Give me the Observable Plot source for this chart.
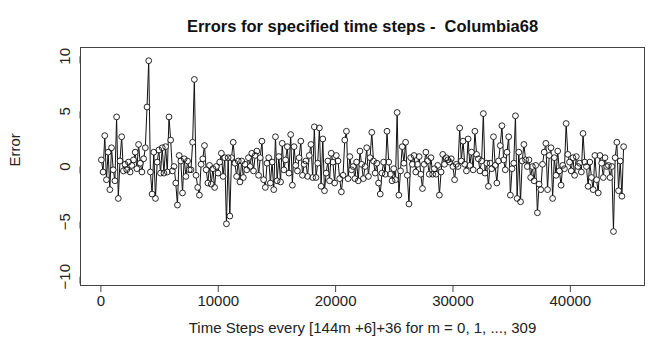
<!DOCTYPE html>
<html>
<head>
<meta charset="utf-8">
<script src="https://cdn.jsdelivr.net/npm/d3@7"></script>
<script src="https://cdn.jsdelivr.net/npm/@observablehq/plot@0.6"></script>
<style>
  html, body { margin: 0; padding: 0; background: #fff; }
</style>
</head>
<body>
<div id="chart"></div>
<script>
const title = "Errors for specified time steps -  Columbia68";
const xLabel = "Time Steps every [144m +6]+36 for m = 0, 1, ..., 309";
const yLabel = "Error";
const xTicks = [0, 10000, 20000, 30000, 40000];
const yTicks = [-10, -5, 0, 5, 10];

// error values for m = 0 .. 309
const errors = [
  0.6, -0.5, 2.8, -1.2, 1.3, -2.1, 1.7, -0.3, -1.3, 4.5,
  -2.9, 0.5, 2.7, -0.4, 0.2, -0.3, 0.4, -0.5, 0.1, 0.6,
  1.3, -0.2, 2.0, 0.3, -0.5, 0.7, 1.7, 5.4, 9.6, -0.5,
  -2.5, 1.3, -2.9, 0.4, 1.5, -0.6, 1.7, -0.6, 1.8, -0.5,
  4.5, 2.4, -0.4, 0.0, -1.5, -3.5, 1.0, 0.5, -2.4, 0.7,
  -0.9, 0.5, -0.3, -0.3, 2.2, 7.9, -0.8, -1.9, -2.6, 0.2,
  0.7, 1.9, -0.3, -1.5, 0.1, -1.6, -0.2, -1.9, 0.0, -0.6,
  0.4, 1.2, -0.9, 0.8, -5.2, 0.8, -4.5, 0.8, 2.2, 0.3,
  -0.9, 0.5, -1.4, 0.5, -1.0, 0.2, -0.3, 0.8, 0.0, 1.2,
  -0.4, 1.0, 1.4, -0.8, 0.8, 2.3, -1.2, -1.9, 0.3, 0.8,
  -1.5, 0.4, -2.1, 2.7, -1.3, 0.9, -1.4, 2.1, -0.3, 0.6,
  1.8, -0.6, 2.9, -1.7, 1.8, 0.1, -0.4, 0.8, 2.3, -0.8,
  0.2, 0.5, -0.9, 1.0, 2.0, -1.0, 3.6, -1.0, 0.3, 3.5,
  -1.8, 2.5, -2.2, -0.6, 0.5, -1.3, 1.2, 0.4, -1.5, 1.0,
  0.5, -1.1, -2.3, -0.8, 2.4, 3.2, -1.1, 0.9, -0.3, 0.0,
  -1.1, 0.4, -1.3, 1.4, 0.2, -1.1, 0.0, 1.7, -0.9, 0.8,
  3.1, 0.5, -0.6, 0.3, -1.5, -2.5, -0.6, 0.4, -0.7, 3.2,
  0.4, -0.7, -1.3, -0.2, -1.2, 4.9, -2.6, -0.4, 1.8, 0.3,
  2.2, -0.8, -3.4, 0.8, 0.2, 1.0, -0.5, 0.2, 0.9, -0.7,
  -2.0, 0.2, 1.3, 0.5, -0.7, 0.8, -0.7, -0.2, -0.7, 0.1,
  -2.6, -0.5, 1.1, 0.2, 0.8, 0.6, 0.4, 0.7, 0.0, -1.2,
  0.2, 0.0, 3.5, 0.5, 2.3, 0.2, -0.4, 2.5, 0.1, 1.3,
  -0.3, 3.2, 1.1, 0.7, -0.4, 0.5, 4.8, -0.6, 0.3, -1.8,
  0.3, -0.2, 2.7, 0.1, -1.5, 0.5, 1.9, 3.7, 0.6, -0.3,
  1.3, 2.7, -2.6, -0.2, 0.3, 4.6, -2.9, 1.3, -3.2, 0.5,
  2.0, 0.6, 0.0, 0.6, -1.0, 0.0, -1.3, 0.1, -4.2, -1.6,
  -2.1, 0.2, 1.3, 2.1, -2.1, 1.0, 1.7, -2.9, 0.8, -0.8,
  1.4, -0.4, -1.7, 0.1, -0.2, 3.9, 1.1, 0.4, -0.4, 0.8,
  -0.8, 0.9, 0.0, 0.3, -0.5, 3.0, 0.4, 0.0, -1.8, 0.4,
  -1.0, -2.1, 1.0, -1.2, -2.4, 1.0, 0.3, -1.0, 0.8, 0.0,
  0.1, -1.0, 0.0, -5.9, 0.8, 2.2, -2.2, 0.5, -2.7, 1.8
];

const data = errors.map((e, m) => ({step: 144 * m + 6 + 36, error: e}));

const font = "'Liberation Sans', Arial, Helvetica, sans-serif";

const chart = Plot.plot({
  width: 648,
  height: 348,
  marginLeft: 80,
  marginRight: 4,
  marginTop: 47,
  marginBottom: 63,
  style: {fontFamily: font, fontSize: "15px", background: "#fff", color: "#222"},
  x: {domain: [-1738, 46318]},
  y: {domain: [-10.8, 10.8]},
  marks: [
    Plot.frame({stroke: "#444", strokeWidth: 1}),
    Plot.axisX({ticks: xTicks, tickSize: 7, tickPadding: 3, tickFormat: d3.format("d"),
      label: null, fontSize: 15, stroke: "#444", fill: "#222"}),
    Plot.axisY({ticks: yTicks, tickSize: 7, tickPadding: 4, rotate: -90,
      textAnchor: "middle", lineAnchor: "bottom",
      label: null, fontSize: 15, stroke: "#444", fill: "#222"}),
    Plot.line(data, {x: "step", y: "error", stroke: "#111", strokeWidth: 1}),
    Plot.dot(data, {x: "step", y: "error", r: 2.9, fill: "#fff", stroke: null}),
    Plot.dot(data, {x: "step", y: "error", r: 2.9, fill: "none", stroke: "#111", strokeWidth: 0.9}),
    Plot.text([title], {frameAnchor: "top", dy: -27, fontWeight: "bold", fontSize: 16.5, fill: "#111"}),
    Plot.text([xLabel], {frameAnchor: "bottom", dy: 47, fontSize: 15, fill: "#222"}),
    Plot.text([yLabel], {frameAnchor: "left", dx: -65, rotate: -90, fontSize: 15, fill: "#222"})
  ]
});

document.getElementById("chart").appendChild(chart);
</script>
</body>
</html>
